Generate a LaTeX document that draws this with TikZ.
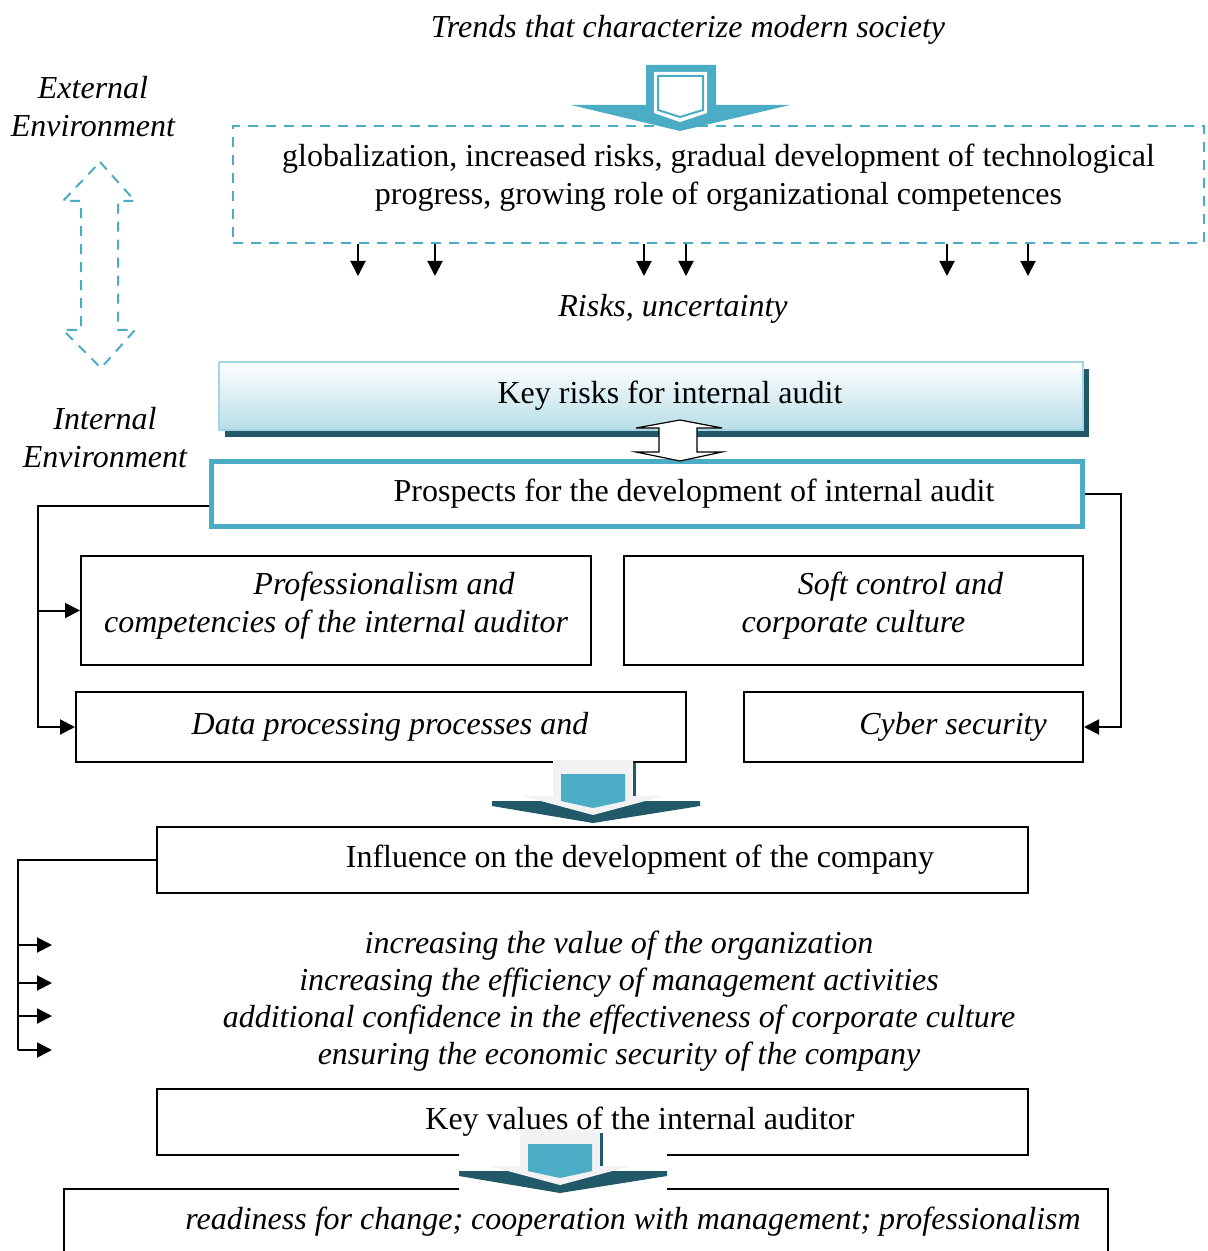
\documentclass[tikz,border=0pt]{standalone}
\usepackage{fontspec}
\setmainfont{Liberation Serif}
\usetikzlibrary{positioning, arrows.meta, shadows}

\definecolor{auditteal}{HTML}{4BACC6}
\definecolor{auditdark}{HTML}{215968}
\definecolor{auditlight}{HTML}{B7DEE8}
\definecolor{auditedge}{HTML}{A5D5E2}
\definecolor{auditgrey}{HTML}{F2F2F2}

\tikzset{
    box/.style={rectangle, draw=black, line width=1pt, align=center},
    note/.style={font=\itshape, align=center},
    dashbox/.style={rectangle, draw=auditteal, line width=1pt, dash pattern=on 5pt off 4pt},
    riskbox/.style={rectangle, draw=auditedge, line width=0.8pt, top color=white, bottom color=auditlight,
        drop shadow={shadow xshift=3pt, shadow yshift=-3.5pt, fill=auditdark, opacity=1}},
    prospectbox/.style={rectangle, draw=auditteal, line width=2.5pt, fill=white},
    arrow/.style={-{Triangle[length=7.5pt, width=7.5pt]}, line width=1pt},
    connector/.style={line width=1pt},
    envarrow/.style={draw=auditteal, line width=1pt, dash pattern=on 5pt off 4pt},
    swaparrow/.style={draw=black, fill=white, line width=0.6pt},
    pics/flowarrow/.style={code={
        \fill[auditdark] (-101,-14) -- (107,-14) -- (107,-9) -- (0,8) -- (-101,-9) -- cycle;
        \fill[auditgrey] (-40,-55) -- (40,-55) -- (40,-19) -- (71,-19) -- (0,0) -- (-71,-19) -- (-40,-19) -- cycle;
        \fill[auditteal] (-32,-41) -- (32,-41) -- (32,-14) -- (0,-7) -- (-32,-14) -- cycle;
        \draw[auditdark, line width=1.5pt] (41,-52) -- (41,-19);
    }}
}

\begin{document}
\fontsize{16}{19}\selectfont
\begin{tikzpicture}[x=0.5pt, y=-0.5pt]

    \useasboundingbox (0,0) rectangle (1207,1251);

    % --- EXTERNAL ENVIRONMENT ---

    \node[note] (trendstitle) at (688,30) {Trends that characterize modern society};
    \node[dashbox, minimum width=485.5pt, minimum height=58.5pt] (trends) at (718.5,184.5)
        {\raisebox{3.5pt}[\height][\depth]{\begin{tabular}{@{}c@{}}globalization, increased risks, gradual development of technological\\
         progress, growing role of organizational competences\end{tabular}}};

    % Big arrow into the trends box
    \fill[auditteal] (646,65) -- (716,65) -- (716,105) -- (790,105) -- (680,131) -- (571,105) -- (646,105) -- cycle;
    \fill[white] (654,72) -- (707,72) -- (707,113) -- (680,122) -- (654,113) -- cycle;
    \draw[auditteal, line width=1pt] (658,76) -- (703,76) -- (703,110) -- (680,117) -- (658,110) -- cycle;

    % Small arrows below the trends box
    \foreach \x [count=\i] in {358,435,644,686,947,1028} {
        \coordinate (drop\i) at (\x,276);
        \draw[arrow] (trends.south -| drop\i) -- (drop\i);
    }

    \node[note] (risks) at (673,309) {Risks, uncertainty};

    % Environment labels and dashed double arrow
    \node[note] (external) at (93,107) {External\\Environment};
    \node[note] (internal) at (105,438) {Internal\\Environment};
    \draw[envarrow] (100,162) -- (135,201) -- (118,201) -- (118,330) -- (135,330) -- (101,368)
        -- (63,330) -- (81,330) -- (81,201) -- (63,201) -- cycle;

    % --- INTERNAL AUDIT ---

    \node[riskbox, minimum width=432pt, minimum height=34pt] (keyrisks) at (651,396)
        {\hspace*{19pt}Key risks for internal audit};
    \node[prospectbox, minimum width=435.5pt, minimum height=32.5pt] (prospects) at (647,494)
        {\hspace*{47pt}Prospects for the development of internal audit};

    % Swap arrow between the two boxes
    \draw[swaparrow] (680,420) -- (722,428) -- (697,428) -- (697,452) -- (722,452) -- (680,461)
        -- (636,452) -- (659,452) -- (659,428) -- (636,428) -- cycle;

    % Four areas
    \node[box, minimum width=255pt, minimum height=54.5pt, font=\itshape] (prof) at (336,610.5)
        {\raisebox{2.5pt}[\height][\depth]{\begin{tabular}{@{}c@{}}\hspace*{48pt}Professionalism and\\
         competencies of the internal auditor\end{tabular}}};
    \node[box, minimum width=229.5pt, minimum height=54.5pt, font=\itshape] (soft) at (853.5,610.5)
        {\raisebox{2.5pt}[\height][\depth]{\begin{tabular}{@{}c@{}}\hspace*{47pt}Soft control and\\
         corporate culture\end{tabular}}};
    \node[box, minimum width=305pt, minimum height=35pt, font=\itshape] (data) at (381,727)
        {\hspace*{9pt}Data processing processes and};
    \node[box, minimum width=169.5pt, minimum height=35pt, font=\itshape] (cyber) at (913.5,727)
        {\hspace*{39.5pt}Cyber security};

    % Left and right buses
    \coordinate (lbus) at (38,506);
    \coordinate (rbus) at (1121,494);
    \draw[arrow] (prospects.west |- lbus) -- (lbus) |- (data.west);
    \draw[arrow] (lbus |- prof.west) -- (prof.west);
    \draw[arrow] (prospects.east) -- (rbus) |- (cyber.east);

    \pic (flowA) at (593,815) {flowarrow};

    % --- INFLUENCE ---

    \node[box, minimum width=435.5pt, minimum height=33pt] (influence) at (592.5,860)
        {\hspace*{47.5pt}Influence on the development of the company};

    \node[note, font=\itshape\fontsize{16}{18.5}\selectfont] (effects) at (619,1001)
        {increasing the value of the organization\\
         increasing the efficiency of management activities\\
         additional confidence in the effectiveness of corporate culture\\
         ensuring the economic security of the company};

    \coordinate (ibus) at (18,860);
    \foreach \y [count=\i] in {945,983,1016,1050}
        \coordinate (item\i) at (52,\y);
    \draw[connector] (influence.west) -- (ibus) -- (ibus |- item4);
    \foreach \i in {1,...,4}
        \draw[arrow] (ibus |- item\i) -- (item\i);

    % --- KEY VALUES ---

    \node[box, minimum width=435.5pt, minimum height=33pt] (values) at (592.5,1122)
        {\hspace*{47.5pt}Key values of the internal auditor};
    \node[box, minimum width=522pt, minimum height=33pt, font=\itshape] (readiness) at (586,1222)
        {\hspace*{47pt}readiness for change; cooperation with management; professionalism};

    \fill[white] (459,1142) rectangle (667,1193);
    \pic (flowB) at (560,1185) {flowarrow};

\end{tikzpicture}
\end{document}
